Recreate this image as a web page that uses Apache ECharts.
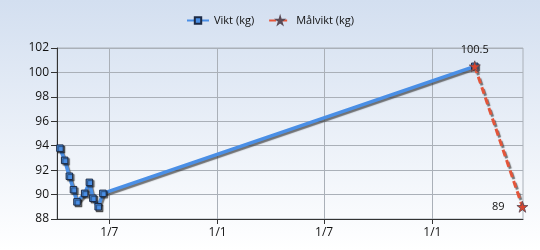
<!DOCTYPE html>
<html>
<head>
<meta charset="utf-8">
<script src="https://cdn.jsdelivr.net/npm/echarts@6/dist/echarts.min.js"></script>
<style>
html,body{margin:0;padding:0;}
#c{width:540px;height:250px;}
</style>
</head>
<body>
<div id="c"></div>
<script>
var viktDates = ['2010-04-08','2010-04-16','2010-04-24','2010-05-01','2010-05-07','2010-05-20','2010-05-28','2010-06-03','2010-06-12','2010-06-20','2012-03-13'];
var viktValues = [93.8, 92.8, 91.5, 90.4, 89.4, 90.1, 91.0, 89.7, 89.0, 90.1, 100.5];
var malDates = ['2012-03-13','2012-06-02'];
var malValues = [100.5, 89];
var yTicks = [88, 90, 92, 94, 96, 98, 100, 102];
var xTickDates = ['2010-07-01','2011-01-01','2011-07-01','2012-01-01'];
var xMin = '2010-04-03', xMax = '2012-06-03';

function t(s){ return Date.UTC(+s.slice(0,4), +s.slice(5,7)-1, +s.slice(8,10)); }
function pairs(d, v){ return d.map(function(x,i){ return [t(x), v[i]]; }); }
var tickTimes = xTickDates.map(t);

var chart = echarts.init(document.getElementById('c'));
var fontFam = '"Open Sans", "Noto Sans", sans-serif';
chart.setOption({
  animation: false,
  backgroundColor: new echarts.graphic.LinearGradient(0,0,0,1,[{offset:0,color:'#d3dff0'},{offset:1,color:'#ffffff'}]),
  legend: {
    top: 10, left: 'center', itemWidth: 22, itemHeight: 8, itemGap: 14,
    textStyle: {fontSize: 11, color: '#111', fontFamily: fontFam},
    data: [{name:'Vikt (kg)'},{name:'Målvikt (kg)'}]
  },
  grid: {left: 57, right: 17, top: 48, bottom: 31, show: true, borderColor: '#aab0b8', borderWidth: 1, backgroundColor: 'transparent'},
  xAxis: {
    type: 'value',
    min: t(xMin), max: t(xMax),
    axisLine: {show: true, lineStyle: {color: '#333', width: 1}},
    axisTick: {show: true, length: 5, lineStyle: {color: '#333'}, customValues: tickTimes},
    splitLine: {show: true, lineStyle: {color: '#aab0b8', width: 1}},
    axisLabel: {
      customValues: tickTimes,
      color: '#111', fontSize: 12, fontFamily: fontFam, margin: 8,
      formatter: function(v){ var d = new Date(v); return d.getUTCDate() + '/' + (d.getUTCMonth()+1); }
    }
  },
  yAxis: {
    type: 'value', min: 88, max: 102, interval: 2,
    axisLine: {show: true, lineStyle: {color: '#333', width: 1}},
    axisTick: {show: true, length: 6, lineStyle: {color: '#333'}},
    splitLine: {show: true, lineStyle: {color: '#aab0b8', width: 1}},
    axisLabel: {color: '#111', fontSize: 12, fontFamily: fontFam, margin: 8,
      formatter: function(v){ return yTicks.indexOf(v) >= 0 ? String(v) : ''; }}
  },
  series: [
    {
      name: 'Vikt (kg)', type: 'line',
      data: pairs(viktDates, viktValues),
      symbol: 'rect', symbolSize: 6.5, showAllSymbol: true,
      itemStyle: {color: '#4a8fe6', borderColor: '#1d2a44', borderWidth: 1, shadowColor: 'rgba(0,0,0,0.5)', shadowOffsetX: 1.5, shadowOffsetY: 1.5, shadowBlur: 1},
      lineStyle: {color: '#4a8fe6', width: 3.5, shadowColor: 'rgba(60,60,60,0.7)', shadowOffsetX: 1.5, shadowOffsetY: 2, shadowBlur: 1},
      z: 2
    },
    {
      name: 'Målvikt (kg)', type: 'line',
      symbol: 'path://M50,0 L61,35 L98,35 L68,57 L79,91 L50,70 L21,91 L32,57 L2,35 L39,35 Z', symbolSize: 11,
      itemStyle: {color: '#d9452e', borderColor: '#5a4a55', borderWidth: 0.8},
      lineStyle: {color: '#e4553a', width: 3, type: [7, 4], shadowColor: 'rgba(60,60,60,0.7)', shadowOffsetX: 1.5, shadowOffsetY: 2, shadowBlur: 1},
      label: {show: true, color: '#111', fontSize: 11, fontFamily: fontFam,
        position: 'top', distance: 5,
        formatter: function(p){ return String(p.value[1]); }},
      data: [
        {value: [t(malDates[0]), malValues[0]], label: {position: 'top'}},
        {value: [t(malDates[1]), malValues[1]], label: {position: 'left', distance: 12}}
      ],
      z: 3
    }
  ]
});
</script>
</body>
</html>
